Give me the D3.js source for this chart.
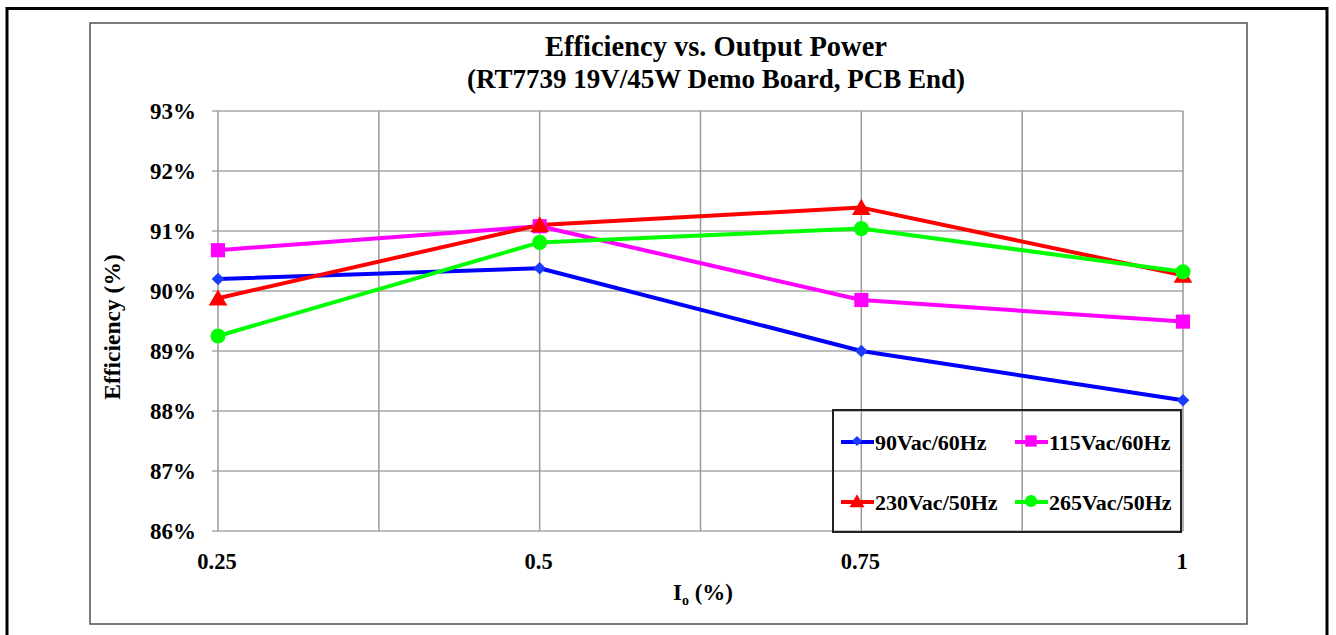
<!DOCTYPE html>
<html>
<head>
<meta charset="utf-8">
<script src="https://cdn.jsdelivr.net/npm/d3@7"></script>
<style>
  html, body { margin: 0; padding: 0; background: #fff; }
  svg { display: block; }
</style>
</head>
<body>
<script>
// Output current ratio (x) and measured efficiency (%) for each input line
const loadPoints = [0.25, 0.5, 0.75, 1];
const eff90Vac = [90.2, 90.38, 89.0, 88.18];
const eff115Vac = [90.68, 91.08, 89.85, 89.49];
const eff230Vac = [89.88, 91.1, 91.39, 90.26];
const eff265Vac = [89.25, 90.81, 91.04, 90.32];
const seriesNames = ["90Vac/60Hz", "115Vac/60Hz", "230Vac/50Hz", "265Vac/50Hz"];
const yTicks = [86, 87, 88, 89, 90, 91, 92, 93];
const xGrid = [0.25, 0.375, 0.5, 0.625, 0.75, 0.875, 1];

const FONT = "'Liberation Serif', 'Times New Roman', Times, 'DejaVu Serif', serif";
const W = 1336, H = 635;
const svg = d3.select("body").append("svg").attr("width", W).attr("height", H)
  .attr("font-family", FONT).attr("font-weight", "bold");

// page frame
svg.append("path")
  .attr("d", "M7,700 L7,8.5 L1327,8.5 L1327,700")
  .attr("fill", "none").attr("stroke", "#000").attr("stroke-width", 3);

// chart frame
svg.append("rect").attr("x", 90).attr("y", 23).attr("width", 1157).attr("height", 601)
  .attr("fill", "#fff").attr("stroke", "#505050").attr("stroke-width", 1.5);

const x = d3.scaleLinear().domain([0.25, 1]).range([218, 1183]);
const y = d3.scaleLinear().domain([86, 93]).range([531, 111]);

// grid
const g = svg.append("g");
g.selectAll(".hg").data(yTicks).join("line")
  .attr("x1", x(0.25) - 6).attr("x2", x(1))
  .attr("y1", d => y(d)).attr("y2", d => y(d))
  .attr("stroke", "#a8a8a8").attr("stroke-width", 1.5);
g.selectAll(".vg").data(xGrid).join("line")
  .attr("x1", d => x(d)).attr("x2", d => x(d))
  .attr("y1", y(93)).attr("y2", y(86))
  .attr("stroke", "#9a9a9a").attr("stroke-width", 1.5);

// axis tick labels
svg.append("g").selectAll("text").data(yTicks).join("text")
  .attr("x", 196).attr("y", d => y(d) + 8)
  .attr("text-anchor", "end").attr("font-size", 23)
  .text(d => d + "%");
svg.append("g").selectAll("text").data(loadPoints).join("text")
  .attr("x", d => x(d) - 1).attr("y", 569)
  .attr("text-anchor", "middle").attr("font-size", 22.5)
  .text(d => String(d));

// titles
svg.append("text").attr("x", 716).attr("y", 56).attr("text-anchor", "middle")
  .attr("font-size", 28.5).text("Efficiency vs. Output Power");
svg.append("text").attr("x", 716).attr("y", 88).attr("text-anchor", "middle")
  .attr("font-size", 27).text("(RT7739 19V/45W Demo Board, PCB End)");

svg.append("text").attr("transform", "translate(120,327) rotate(-90)")
  .attr("text-anchor", "middle").attr("font-size", 23.5).text("Efficiency (%)");

const xt = svg.append("text").attr("x", 703).attr("y", 600).attr("text-anchor", "middle").attr("font-size", 23);
xt.append("tspan").text("I");
xt.append("tspan").attr("font-size", 14).attr("dy", 5).text("o");
xt.append("tspan").attr("dy", -5).text(" (%)");

// series
const series = [
  { name: seriesNames[0], vals: eff90Vac, color: "#0000ff", marker: "diamond", mfill: "#1a3cff" },
  { name: seriesNames[1], vals: eff115Vac, color: "#ff00ff", marker: "square", mfill: "#ff00ff" },
  { name: seriesNames[2], vals: eff230Vac, color: "#ff0000", marker: "triangle", mfill: "#ff0000" },
  { name: seriesNames[3], vals: eff265Vac, color: "#00ff00", marker: "circle", mfill: "#00ff00" }
];

function markerPath(kind, scale) {
  if (kind === "diamond") return d3.symbol().type(d3.symbolSquare).size(80 * scale)();
  if (kind === "square") return d3.symbol().type(d3.symbolSquare).size(200 * scale)();
  if (kind === "triangle") return d3.symbol().type(d3.symbolTriangle).size(150 * scale)();
  return d3.symbol().type(d3.symbolCircle).size(180 * scale)();
}
function markerTransform(kind, cx, cy) {
  if (kind === "diamond") return `translate(${cx},${cy}) rotate(45)`;
  if (kind === "triangle") return `translate(${cx},${cy + 2})`;
  return `translate(${cx},${cy})`;
}

const line = d3.line().x(d => x(d[0])).y(d => y(d[1]));
const plot = svg.append("g");
series.forEach(s => {
  const pts = loadPoints.map((p, i) => [p, s.vals[i]]);
  plot.append("path").datum(pts).attr("d", line)
    .attr("fill", "none").attr("stroke", s.color).attr("stroke-width", 4)
    .attr("stroke-linejoin", "round");
});
series.forEach(s => {
  const pts = loadPoints.map((p, i) => [p, s.vals[i]]);
  plot.selectAll(null).data(pts).join("path")
    .attr("d", markerPath(s.marker, 1))
    .attr("transform", d => markerTransform(s.marker, x(d[0]), y(d[1])))
    .attr("fill", s.mfill);
});

// legend
const lg = svg.append("g");
lg.append("rect").attr("x", 833).attr("y", 410).attr("width", 348).attr("height", 122)
  .attr("fill", "none").attr("stroke", "#222").attr("stroke-width", 2);
const legPos = [[841, 442], [1015, 442], [841, 502], [1015, 502]];
series.forEach((s, i) => {
  const [lx, ly] = legPos[i];
  lg.append("line").attr("x1", lx).attr("x2", lx + 33).attr("y1", ly).attr("y2", ly)
    .attr("stroke", s.color).attr("stroke-width", 4);
  lg.append("path").attr("fill", s.mfill)
    .attr("d", markerPath(s.marker, 0.65))
    .attr("transform", markerTransform(s.marker, lx + 16, ly - 1));
  lg.append("text").attr("x", lx + 34).attr("y", ly + 7.5).attr("font-size", 22).text(s.name);
});
</script>
</body>
</html>
